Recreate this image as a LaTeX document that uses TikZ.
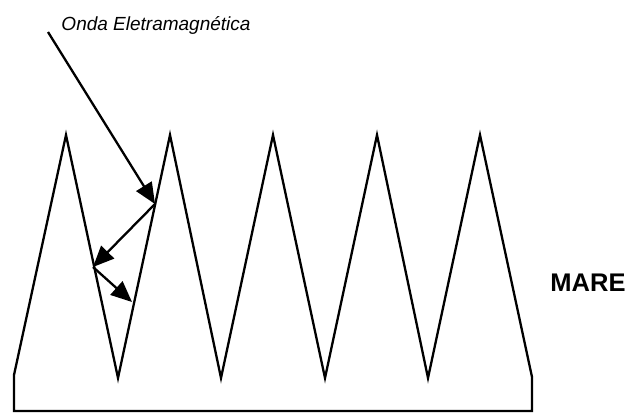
\documentclass[tikz,border=0pt]{standalone}
\usepackage{fontspec}
\setmainfont{Liberation Sans}
\usetikzlibrary{arrows.meta}
\begin{document}
\begin{tikzpicture}[x=1pt,y=-1pt,
  edge/.style={line width=2.3pt,line join=miter},
  ray/.style={line width=2.3pt,-{Triangle[length=21pt,width=18pt]}},
  lbl/.style={inner sep=0pt}]
\useasboundingbox (0,0) rectangle (629,413);
\coordinate (b0) at (14,375);
\coordinate (p1) at (66,135);
\coordinate (v1) at (118,378);
\coordinate (p2) at (170,135);
\coordinate (v2) at (221,378);
\coordinate (p3) at (273,135);
\coordinate (v3) at (325,378);
\coordinate (p4) at (377,135);
\coordinate (v4) at (428,378);
\coordinate (p5) at (480,135);
\coordinate (b1) at (532,377);
\coordinate (c1) at (532,411);
\coordinate (c0) at (14,411);
\draw[edge] (c0) -- (b0) -- (p1) -- (v1) -- (p2) -- (v2) -- (p3) -- (v3) -- (p4) -- (v4) -- (p5) -- (b1) -- (c1) -- cycle;
\coordinate (s) at (48,32);
\coordinate (h1) at (155,204);
\coordinate (h2) at (93,267);
\coordinate (h3) at (132,302);
\draw[ray] (s) -- (h1);
\draw[ray] (h1) -- (h2);
\draw[ray] (h2) -- (h3);
\node[lbl] (onda) at (156,25) {\fontsize{19}{21}\selectfont\itshape Onda Eletramagnética};
\node[lbl] (mare) at (588,283) {\fontsize{25.5}{28}\selectfont\bfseries MARE};
\end{tikzpicture}
\end{document}
